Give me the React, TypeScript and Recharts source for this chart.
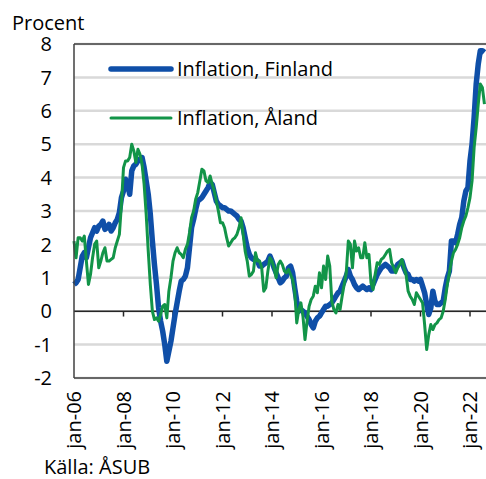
import React from 'react';
import {
  LineChart,
  Line,
  XAxis,
  YAxis,
  CartesianGrid,
  ReferenceLine,
  Legend,
} from 'recharts';

// Månader räknas från jan-06 (index 0) till aug-22 (index 199).
const tickMonths = [0, 24, 48, 72, 96, 120, 144, 168, 192];
const tickLabels = ['jan-06', 'jan-08', 'jan-10', 'jan-12', 'jan-14', 'jan-16', 'jan-18', 'jan-20', 'jan-22'];
const yTicks = [-2, -1, 0, 1, 2, 3, 4, 5, 6, 7, 8];

const finland = [
  0.8, 0.85, 0.95, 1.3, 1.65, 1.75, 1.6, 1.9, 2.2, 2.35,
  2.5, 2.4, 2.55, 2.6, 2.7, 2.45, 2.5, 2.6, 2.4, 2.5,
  2.65, 2.75, 2.95, 3.4, 3.6, 3.95, 3.8, 3.5, 4.2, 4.35,
  4.4, 4.5, 4.55, 4.6, 4.3, 3.9, 3.5, 2.9, 2.1, 1.4,
  0.8, 0.1, -0.3, -0.6, -1.0, -1.5, -1.2, -0.9, -0.5, -0.1,
  0.25, 0.6, 0.9, 0.95, 1.05, 1.3, 1.9, 2.5, 2.75, 3.05,
  3.3, 3.35, 3.4, 3.5, 3.6, 3.7, 3.85, 3.8, 3.55, 3.3,
  3.2, 3.15, 3.1, 3.1, 3.05, 3.0, 3.0, 2.95, 2.9, 2.85,
  2.75, 2.7, 2.5, 2.2, 1.9, 1.7, 1.6, 1.55, 1.55, 1.5,
  1.35, 1.35, 1.4, 1.45, 1.5, 1.65, 1.5, 1.3, 1.15, 1.0,
  0.85, 0.9, 1.0, 1.05, 1.3, 1.35, 1.15, 0.7, 0.3, 0.0,
  0.05, 0.0, -0.05, -0.15, -0.25, -0.4, -0.5, -0.3, -0.2, -0.15,
  -0.05, 0.05, 0.15, 0.15, 0.2, 0.25, 0.35, 0.45, 0.55, 0.6,
  0.75, 0.9, 1.05, 1.25, 1.05, 0.95, 0.8, 0.7, 0.65, 0.7,
  0.75, 0.7, 0.65, 0.7, 0.65, 0.8, 0.95, 1.1, 1.2, 1.3,
  1.35, 1.4, 1.35, 1.3, 1.2, 1.2, 1.3, 1.4, 1.45, 1.5,
  1.3, 1.15, 1.1, 0.95, 0.95, 0.9, 0.95, 0.9, 0.95, 0.75,
  0.55, 0.2, -0.1, 0.1, 0.6, 0.3, 0.2, 0.2, 0.25, 0.3,
  0.7, 1.0, 1.2, 2.1, 2.1, 2.05, 2.3, 2.6, 2.8, 3.3,
  3.6, 3.7, 4.5, 5.0, 5.8, 6.8, 7.4, 7.8, 7.8, 7.75,
];

const aland = [
  2.1, 1.6, 2.2, 2.2, 2.1, 2.25, 1.5, 0.8, 1.1, 1.6,
  2.0, 2.1, 1.3, 1.5, 1.75, 1.9, 1.5, 1.5, 1.55, 1.6,
  1.9, 2.1, 2.3, 3.2, 4.3, 4.5, 4.5, 4.6, 5.0, 4.8,
  4.45, 4.85, 4.7, 4.4, 3.8, 2.9, 1.8, 0.8, 0.0, -0.25,
  -0.2, -0.3, -0.1, 0.15, 0.2, -0.2, 0.6, 1.0, 1.5, 1.75,
  1.9, 1.75, 1.7, 1.6, 1.85, 2.0, 2.35, 2.8, 3.0, 3.35,
  3.55, 3.9, 4.25, 4.2, 3.9, 3.85, 4.05, 3.8, 3.6, 3.3,
  3.0, 2.65, 2.65, 2.5, 2.2, 1.95, 2.05, 2.15, 2.2, 2.3,
  2.5, 2.8, 2.3, 1.8, 1.5, 1.05, 1.1, 1.2, 1.75, 1.5,
  1.5, 1.3, 0.6, 0.7, 1.2, 1.6, 1.5, 1.3, 1.0, 1.4,
  1.5, 1.4, 1.2, 1.15, 1.25, 1.1, 0.95, 0.6, -0.35, 0.05,
  0.25, -0.15, -0.85, -0.3, 0.15, 0.35, 0.45, 0.75, 0.55, 1.15,
  0.7, 1.35, 0.95, 1.65, 1.35, 0.3, 0.05, -0.05, 0.2, 0.05,
  0.45, 0.8, 1.15, 2.1, 2.0, 1.3, 2.1, 1.8, 1.9, 1.6,
  1.6, 2.05, 1.6, 1.7, 0.85, 0.65, 1.1, 1.45, 1.4, 1.55,
  1.6, 1.7, 1.8, 1.85, 1.45, 1.3, 1.15, 1.3, 1.4, 1.55,
  1.3, 1.1, 0.6, 0.45, 0.35, 0.2, 0.55, 0.45, 0.35, 0.25,
  -0.4, -1.15, -0.7, -0.4, -0.55, -0.4, -0.35, -0.25, -0.2, 0.0,
  0.35, 0.8, 1.15, 1.5, 1.75, 1.85, 2.0, 2.2, 2.5, 2.7,
  2.85, 3.1, 3.4, 3.9, 4.9, 5.5, 6.2, 6.8, 6.7, 6.2,
];

const data = finland.map((v, i) => ({ m: i, finland: v, aland: aland[i] }));

const FONT = '"Open Sans", "DejaVu Sans", sans-serif';
const BLUE = '#0f4fa8';
const GREEN = '#129448';
const FRAME = '#404040';

const XTick = (props: any) => {
  const { x, y, payload } = props;
  const idx = tickMonths.indexOf(payload.value);
  const ty = y + 13;
  return (
    <text
      x={x}
      y={ty}
      transform={`rotate(-90, ${x}, ${ty})`}
      textAnchor="end"
      dy="0.35em"
      fontSize={20}
      fontFamily={FONT}
      fill="#000"
    >
      {tickLabels[idx]}
    </text>
  );
};

const LegendBox = () => (
  <div style={{ position: 'relative', width: 260, height: 80, fontFamily: FONT, fontSize: 20, color: '#000' }}>
    {[
      { name: 'Inflation, Finland', color: BLUE, width: 5.5, top: 0 },
      { name: 'Inflation, Åland', color: GREEN, width: 3, top: 49 },
    ].map(item => (
      <div key={item.name} style={{ position: 'absolute', left: 0, top: item.top, height: 28, display: 'flex', alignItems: 'center' }}>
        <svg width={66} height={10} style={{ display: 'block' }}>
          <line x1={3} x2={63} y1={5} y2={5} stroke={item.color} strokeWidth={item.width} strokeLinecap="round" />
        </svg>
        <span style={{ marginLeft: 3, lineHeight: '28px', whiteSpace: 'nowrap' }}>{item.name}</span>
      </div>
    ))}
  </div>
);

export default function App() {
  return (
    <div style={{ position: 'fixed', left: 0, top: 0, width: 486, height: 479, overflow: 'hidden', background: '#fff', fontFamily: FONT }}>
      <div style={{ position: 'absolute', left: 12, top: 16, fontSize: 20, lineHeight: '14px', color: '#000' }}>Procent</div>
      <LineChart
        width={500}
        height={479}
        data={data}
        margin={{ top: 44, right: 13.5, bottom: 0, left: 0 }}
      >
        <CartesianGrid vertical={false} stroke="#d9d9d9" strokeWidth={2.5} />
        <XAxis
          dataKey="m"
          type="number"
          domain={[0, 200]}
          ticks={tickMonths}
          interval={0}
          height={101}
          tickLine={false}
          tickSize={0}
          tickMargin={0}
          axisLine={{ stroke: FRAME, strokeWidth: 1.5 }}
          tick={<XTick />}
        />
        <YAxis
          type="number"
          domain={[-2, 8]}
          ticks={yTicks}
          interval={0}
          width={74}
          tickLine={false}
          tickSize={0}
          tickMargin={22}
          axisLine={{ stroke: FRAME, strokeWidth: 1.5 }}
          tick={{ fontSize: 20, fill: '#000', fontFamily: FONT }}
        />
        <ReferenceLine y={8} stroke={FRAME} strokeWidth={1.5} />
        <ReferenceLine y={0} stroke="#262626" strokeWidth={1.5} />
        {tickMonths.slice(1).map(m => (
          <ReferenceLine
            key={m}
            segment={[{ x: m, y: 0 }, { x: m, y: -0.16 }]}
            stroke="#262626"
            strokeWidth={1.5}
          />
        ))}
        <Legend
          layout="vertical"
          align="center"
          verticalAlign="middle"
          wrapperStyle={{ left: 108, top: 55, width: 260 }}
          content={<LegendBox />}
        />
        <Line
          type="linear"
          dataKey="finland"
          name="Inflation, Finland"
          stroke={BLUE}
          strokeWidth={5.5}
          strokeLinejoin="round"
          dot={false}
          isAnimationActive={false}
        />
        <Line
          type="linear"
          dataKey="aland"
          name="Inflation, Åland"
          stroke={GREEN}
          strokeWidth={3}
          strokeLinejoin="round"
          dot={false}
          isAnimationActive={false}
        />
      </LineChart>
      <div style={{ position: 'absolute', left: 44, top: 457, fontSize: 20, lineHeight: '20px', color: '#000' }}>Källa: ÅSUB</div>
    </div>
  );
}
